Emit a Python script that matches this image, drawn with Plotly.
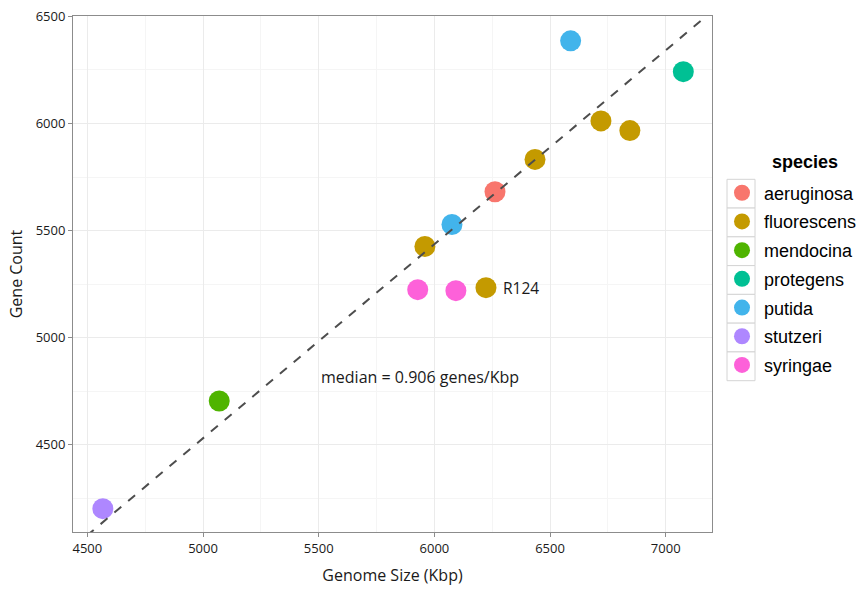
import plotly.graph_objects as go

species_order = ["aeruginosa", "fluorescens", "mendocina", "protegens", "putida", "stutzeri", "syringae"]
species_colors = ["#F8766D", "#C49A00", "#4FB400", "#00C094", "#42B4EB", "#AE87FF", "#FD61D9"]

strain_species = ["stutzeri", "mendocina", "syringae", "fluorescens", "putida", "syringae", "fluorescens",
                  "aeruginosa", "fluorescens", "putida", "fluorescens", "fluorescens", "protegens"]
genome_kbp = [4567, 5070, 5928, 5959, 6076, 6093, 6223, 6262, 6435, 6589, 6720, 6845, 7076]
gene_count = [4201, 4704, 5224, 5426, 5528, 5219, 5233, 5681, 5832, 6386, 6012, 5967, 6242]
point_labels = ["", "", "", "", "", "", "R124", "", "", "", "", "", ""]

median_slope = 0.906
x_range = [4438, 7200]
y_range = [4092, 6502]

fig = go.Figure()

for sp, col in zip(species_order, species_colors):
    xs = [x for x, s in zip(genome_kbp, strain_species) if s == sp]
    ys = [y for y, s in zip(gene_count, strain_species) if s == sp]
    fig.add_trace(go.Scatter(x=xs, y=ys, mode="markers", name=sp, legendgroup=sp,
                             marker=dict(color=col, size=21, line=dict(width=0))))

# median ratio line through the origin
fig.add_trace(go.Scatter(x=x_range, y=[median_slope * v for v in x_range], mode="lines",
                         line=dict(color="#4d4d4d", width=2, dash="dash"),
                         showlegend=False, hoverinfo="skip"))

for x, y, t in zip(genome_kbp, gene_count, point_labels):
    if t:
        fig.add_annotation(x=x, y=y, text=t, showarrow=False, xanchor="left", xshift=15,
                           font=dict(family="Open Sans", size=15.5, color="#1a1a1a"))

fig.add_annotation(x=5938, y=4815, text=f"median = {median_slope:.3f} genes/Kbp", showarrow=False,
                   font=dict(family="Open Sans", size=16, color="#1a1a1a"))

axis_common = dict(showgrid=True, gridcolor="#ebebeb", gridwidth=1,
                   minor=dict(showgrid=True, gridcolor="#f5f5f5", gridwidth=1),
                   showline=True, linecolor="#8c8c8c", linewidth=1, mirror=True,
                   ticks="outside", ticklen=4, tickcolor="#8c8c8c",
                   tickfont=dict(family="Open Sans", size=13, color="#1a1a1a"),
                   zeroline=False)

fig.update_xaxes(range=x_range, tickvals=[4500, 5000, 5500, 6000, 6500, 7000],
                 minor_tickvals=[4750, 5250, 5750, 6250, 6750],
                 title=dict(text="Genome Size (Kbp)", font=dict(family="Open Sans", size=16, color="#1a1a1a"),
                            standoff=14),
                 **axis_common)
fig.update_yaxes(range=y_range, tickvals=[4500, 5000, 5500, 6000, 6500],
                 minor_tickvals=[4250, 4750, 5250, 5750, 6250],
                 title=dict(text="Gene Count", font=dict(family="Open Sans", size=16, color="#1a1a1a"),
                            standoff=9),
                 **axis_common)

# legend title and key boxes (ggplot-style legend decoration)
plot_left, plot_top, plot_w, plot_h = 73, 16, 639, 516
def px_to_paper_x(px):
    return (px - plot_left) / plot_w
def px_to_paper_y(py):
    return 1 - (py - plot_top) / plot_h

fig.add_annotation(xref="paper", yref="paper", x=px_to_paper_x(805), y=px_to_paper_y(162),
                   xanchor="center", yanchor="middle", text="<b>species</b>",
                   showarrow=False, font=dict(family="Liberation Sans", size=18, color="black"))

key_h = 28.77
for i in range(len(species_order)):
    y0 = 179.3 + i * key_h
    fig.add_shape(type="rect", xref="paper", yref="paper",
                  x0=px_to_paper_x(727), x1=px_to_paper_x(755),
                  y0=px_to_paper_y(y0), y1=px_to_paper_y(y0 + key_h),
                  line=dict(color="#d4d4d4", width=1), fillcolor="white", layer="below")

fig.update_layout(
    width=859, height=590,
    margin=dict(l=73, r=147, t=16, b=58, autoexpand=False),
    plot_bgcolor="white", paper_bgcolor="white",
    legend=dict(font=dict(family="Liberation Sans", size=18, color="black"),
                x=px_to_paper_x(720), xanchor="left", y=0.6927, yanchor="top",
                tracegroupgap=2.3, itemsizing="trace", itemwidth=34,
                bgcolor="rgba(0,0,0,0)"),
)

fig.write_html("out.html", config={"displayModeBar": False},
               post_script="document.body.style.margin='0';")
